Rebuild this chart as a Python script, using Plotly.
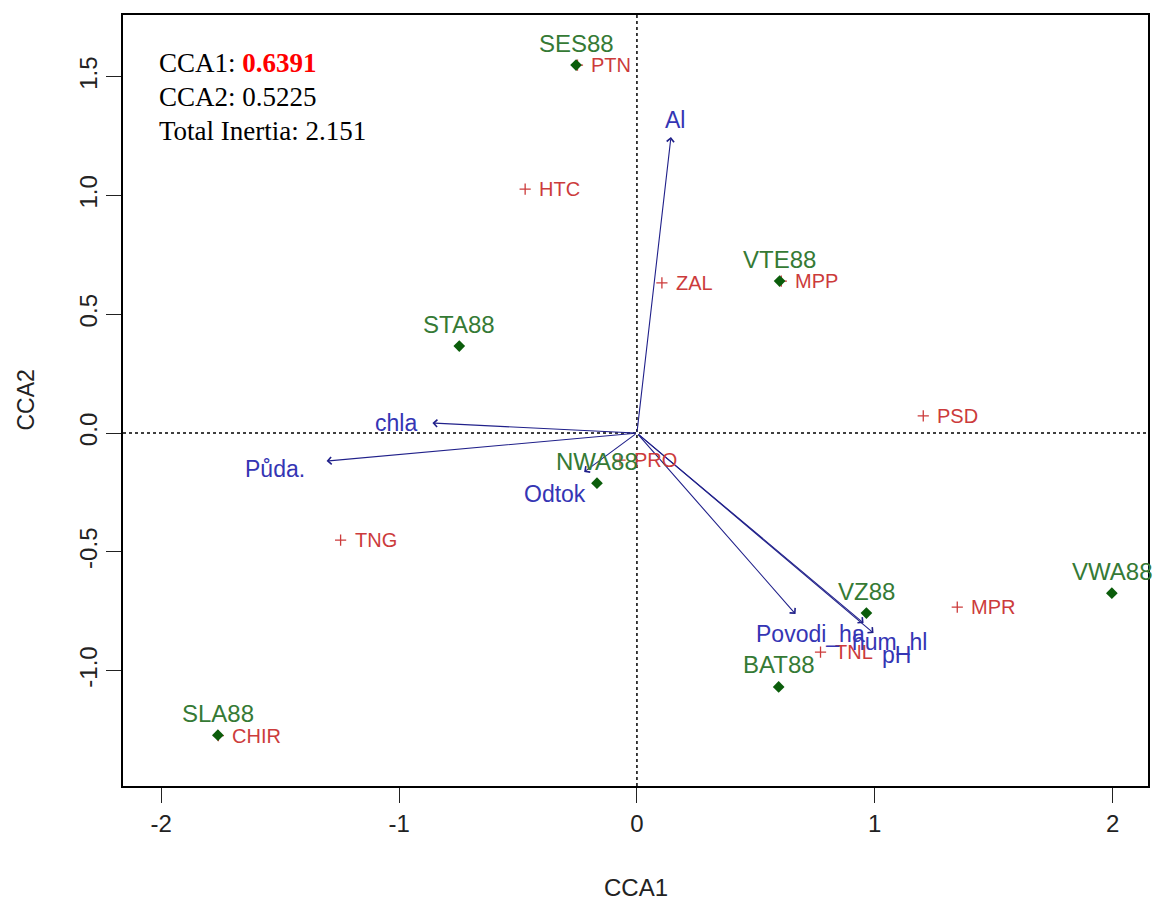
import plotly.graph_objects as go

# ---- data (CCA scores) ----
sites = ["SES88", "VTE88", "STA88", "NWA88", "VZ88", "VWA88", "BAT88", "SLA88"]
site_x = [-0.256, 0.600, -0.747, -0.168, 0.965, 1.997, 0.596, -1.762]
site_y = [1.549, 0.640, 0.366, -0.211, -0.758, -0.674, -1.069, -1.272]

species = ["PTN", "HTC", "ZAL", "MPP", "PSD", "PRO", "TNG", "MPR", "TNL", "CHIR"]
sp_x = [-0.250, -0.470, 0.105, 0.607, 1.204, -0.071, -1.246, 1.347, 0.772, -1.760]
sp_y = [1.549, 1.027, 0.632, 0.640, 0.072, -0.114, -0.451, -0.733, -0.922, -1.274]

env = ["Al", "chla", "Půda.", "Odtok", "Povodi_ha", "hum_hl", "pH"]
env_x = [0.143, -0.860, -1.305, -0.222, 0.667, 0.953, 0.995]
env_y = [1.246, 0.042, -0.118, -0.164, -0.762, -0.800, -0.842]
env_lab_x = [0.159, -1.011, -1.523, -0.344, 0.730, 1.062, 1.091]
env_lab_y = [1.318, 0.042, -0.152, -0.257, -0.846, -0.880, -0.935]

x_ticks = [-2, -1, 0, 1, 2]
y_ticks = [-1.0, -0.5, 0.0, 0.5, 1.0, 1.5]
y_tick_text = ["-1.0", "-0.5", "0.0", "0.5", "1.0", "1.5"]

eig_cca1 = "0.6391"
eig_cca2 = "0.5225"
total_inertia = "2.151"

# ---- styles ----
SANS = "Liberation Sans, Arial, sans-serif"
SERIF = "Liberation Serif, Times New Roman, serif"
GREEN_TXT = "#357a35"
GREEN_PT = "#0b5d0b"
RED = "#cc3b3b"
BLUE_TXT = "#3535b4"
ARROW = "#20208a"

fig = go.Figure()

# species crosses
fig.add_trace(go.Scatter(
    x=sp_x, y=sp_y, mode="markers",
    marker=dict(symbol="cross-thin", size=8, line=dict(color=RED, width=1.3), color=RED),
    hoverinfo="text", text=species, showlegend=False))

# site points
fig.add_trace(go.Scatter(
    x=site_x, y=site_y, mode="markers",
    marker=dict(symbol="diamond", size=9, color=GREEN_PT),
    hoverinfo="text", text=sites, showlegend=False))

annotations = []

# biplot arrows
for ex, ey in zip(env_x, env_y):
    annotations.append(dict(
        x=ex, y=ey, ax=0, ay=0, xref="x", yref="y", axref="x", ayref="y",
        text="", showarrow=True, arrowhead=4, arrowsize=1.3, arrowwidth=1.1,
        arrowcolor=ARROW, standoff=0, startstandoff=0))

# species labels (right of cross)
for name, sx, sy in zip(species, sp_x, sp_y):
    annotations.append(dict(
        x=sx, y=sy, xref="x", yref="y", text=name, showarrow=False,
        xanchor="left", yanchor="middle", xshift=12,
        font=dict(family=SANS, size=20, color=RED)))

# site labels (above point)
for name, sx, sy in zip(sites, site_x, site_y):
    annotations.append(dict(
        x=sx, y=sy, xref="x", yref="y", text=name, showarrow=False,
        xanchor="center", yanchor="middle", yshift=22,
        font=dict(family=SANS, size=24, color=GREEN_TXT)))

# env labels
for name, lx, ly in zip(env, env_lab_x, env_lab_y):
    annotations.append(dict(
        x=lx, y=ly, xref="x", yref="y", text=name, showarrow=False,
        xanchor="center", yanchor="middle",
        font=dict(family=SANS, size=23, color=BLUE_TXT)))

# eigenvalue text block
info_lines = [
    f"CCA1: <b><span style='color:#ff0000'>{eig_cca1}</span></b>",
    f"CCA2: {eig_cca2}",
    f"Total Inertia: {total_inertia}",
]
for i, line in enumerate(info_lines):
    annotations.append(dict(
        x=0, y=1, xref="paper", yref="paper", text=line, showarrow=False,
        xanchor="left", yanchor="middle", xshift=34, yshift=-(48 + 34 * i),
        font=dict(family=SERIF, size=27, color="black")))

# axis titles
annotations.append(dict(
    x=0.5, y=0, xref="paper", yref="paper", text="CCA1", showarrow=False,
    xanchor="center", yanchor="middle", yshift=-101,
    font=dict(family=SANS, size=24, color="#222222")))
annotations.append(dict(
    x=0, y=0.5, xref="paper", yref="paper", text="CCA2", showarrow=False,
    xanchor="center", yanchor="middle", xshift=-98, textangle=-90,
    font=dict(family=SANS, size=23, color="#222222")))

shapes = [
    dict(type="line", xref="x", yref="paper", x0=0, x1=0, y0=0, y1=1,
         line=dict(color="black", width=1.5, dash="dot"), layer="below"),
    dict(type="line", xref="paper", yref="y", x0=0, x1=1, y0=0, y1=0,
         line=dict(color="black", width=1.5, dash="dot"), layer="below"),
]

axis_common = dict(
    showgrid=False, zeroline=False, showline=True, mirror=True,
    linecolor="black", linewidth=1.5, ticks="outside", ticklen=15,
    tickwidth=1.3, tickcolor="#222222",
    tickfont=dict(family=SANS, size=24, color="#222222"),
)

fig.update_layout(
    width=1153, height=901,
    margin=dict(l=123, r=3, t=15, b=115),
    paper_bgcolor="white", plot_bgcolor="white",
    xaxis=dict(range=[-2.161, 2.149], tickvals=x_ticks, ticktext=[str(t) for t in x_ticks],
               **axis_common),
    yaxis=dict(range=[-1.486, 1.760], tickvals=y_ticks, ticktext=y_tick_text,
               tickangle=-90, **axis_common),
    annotations=annotations,
    shapes=shapes,
    showlegend=False,
)

fig.write_html("out.html")
